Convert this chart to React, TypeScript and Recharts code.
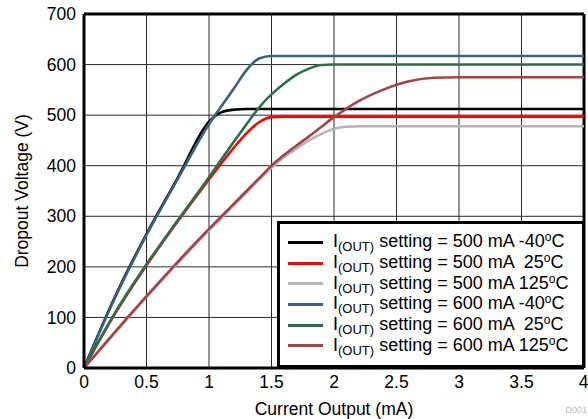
import { LineChart, Line, XAxis, YAxis, CartesianGrid, Legend, ReferenceLine } from 'recharts';

// Current output (mA) sample points
const current = [0, 0.25, 0.5, 0.75, 1, 1.1, 1.2, 1.3, 1.4, 1.5, 1.6, 1.7, 1.8, 1.9, 2, 2.1, 2.2, 2.4, 2.6, 2.8, 3, 3.5, 4];

// Dropout voltage for each setting / temperature
const v500m40 = [0, 142, 265, 376, 487, 506, 511, 512, 512, 512, 512, 512, 512, 512, 512, 512, 512, 512, 512, 512, 512, 512, 512];
const v500p25 = [0, 108, 203, 290, 373, 405, 436, 464, 486, 496, 497, 497, 497, 497, 497, 497, 497, 497, 497, 497, 497, 497, 497];
const v500p125 = [0, 70, 140, 207, 272, 297, 322, 347, 372, 396, 417, 434, 450, 463, 473, 477, 478, 478, 478, 478, 478, 478, 478];
const v600m40 = [0, 140, 263, 374, 482, 518, 553, 589, 612, 617, 617, 617, 617, 617, 617, 617, 617, 617, 617, 617, 617, 617, 617];
const v600p25 = [0, 110, 205, 292, 377, 413, 448, 482, 515, 541, 562, 580, 592, 599, 600, 600, 600, 600, 600, 600, 600, 600, 600];
const v600p125 = [0, 72, 142, 210, 275, 300, 325, 350, 375, 400, 421, 440, 458, 477, 496, 513, 528, 551, 567, 574, 575, 575, 575];

const xTicks = [0, 0.5, 1, 1.5, 2, 2.5, 3, 3.5, 4];
const yTicks = [0, 100, 200, 300, 400, 500, 600, 700];

const series = [
  { key: 's1', setting: '500 mA', temp: '-40', color: '#000000', values: v500m40 },
  { key: 's2', setting: '500 mA', temp: ' 25', color: '#ff0000', values: v500p25 },
  { key: 's3', setting: '500 mA', temp: '125', color: '#b4b4b4', values: v500p125 },
  { key: 's4', setting: '600 mA', temp: '-40', color: '#38637e', values: v600m40 },
  { key: 's5', setting: '600 mA', temp: ' 25', color: '#2b6e4c', values: v600p25 },
  { key: 's6', setting: '600 mA', temp: '125', color: '#a44343', values: v600p125 },
];

const data = current.map((x, i) => {
  const row: Record<string, number> = { x };
  series.forEach(s => {
    row[s.key] = s.values[i];
  });
  return row;
});

const FONT = '"Liberation Sans", Arial, Helvetica, sans-serif';

// Boxed legend drawn over the lower right of the plot
const LegendBox = () => (
  <div
    style={{
      boxSizing: 'border-box',
      width: 308,
      height: 147,
      border: '3px solid #000',
      background: '#fff',
      paddingTop: 8,
      fontFamily: FONT,
      fontSize: 18,
      color: '#000',
    }}
  >
    {series.map(s => (
      <div key={s.key} style={{ display: 'flex', alignItems: 'center', height: 20.7 }}>
        <div style={{ width: 35, height: 3, background: s.color, marginLeft: 8, marginRight: 10 }} />
        <span style={{ whiteSpace: 'pre', lineHeight: '20px' }}>
          I<sub style={{ fontSize: 13, verticalAlign: -4 }}>(OUT)</sub>
          {` setting = ${s.setting} ${s.temp}`}
          <sup style={{ fontSize: 12, verticalAlign: 6 }}>o</sup>C
        </span>
      </div>
    ))}
  </div>
);

export default function App() {
  return (
    <div style={{ position: 'absolute', left: 0, top: 0, width: 588, height: 419, overflow: 'hidden', background: '#fff' }}>
      <LineChart
        width={588}
        height={419}
        data={data}
        margin={{ top: 14, right: 4, left: 0, bottom: 0 }}
        style={{ fontFamily: FONT }}
      >
        <CartesianGrid stroke="#2a2a2a" strokeWidth={1} />
        <XAxis
          dataKey="x"
          type="number"
          domain={[0, 4]}
          ticks={xTicks}
          height={51}
          tickSize={0}
          tickMargin={8}
          axisLine={{ stroke: '#000', strokeWidth: 3 }}
          tick={{ fill: '#000', fontSize: 17.5 }}
          label={{ value: 'Current Output (mA)', position: 'insideBottom', offset: 4, fill: '#000', fontSize: 17.5 }}
        />
        <YAxis
          type="number"
          domain={[0, 700]}
          ticks={yTicks}
          width={84}
          tickSize={0}
          tickMargin={8}
          axisLine={{ stroke: '#000', strokeWidth: 3 }}
          tick={{ fill: '#000', fontSize: 17.5 }}
          label={{
            value: 'Dropout Voltage (V)',
            angle: -90,
            position: 'insideLeft',
            offset: 22,
            fill: '#000',
            fontSize: 17.5,
            style: { textAnchor: 'middle' },
          }}
        />
        <ReferenceLine y={700} stroke="#000" strokeWidth={3} />
        <ReferenceLine x={4} stroke="#000" strokeWidth={3} />
        {series.map(s => (
          <Line
            key={s.key}
            dataKey={s.key}
            type="monotone"
            stroke={s.color}
            strokeWidth={2.6}
            dot={false}
            isAnimationActive={false}
          />
        ))}
        <Legend
          layout="horizontal"
          verticalAlign="middle"
          align="center"
          content={<LegendBox />}
          wrapperStyle={{ left: 277, top: 221, width: 308, height: 147 }}
        />
      </LineChart>
      <div style={{ position: 'absolute', right: 1, top: 405, fontFamily: FONT, fontSize: 9, color: '#bbb' }}>D001</div>
    </div>
  );
}
